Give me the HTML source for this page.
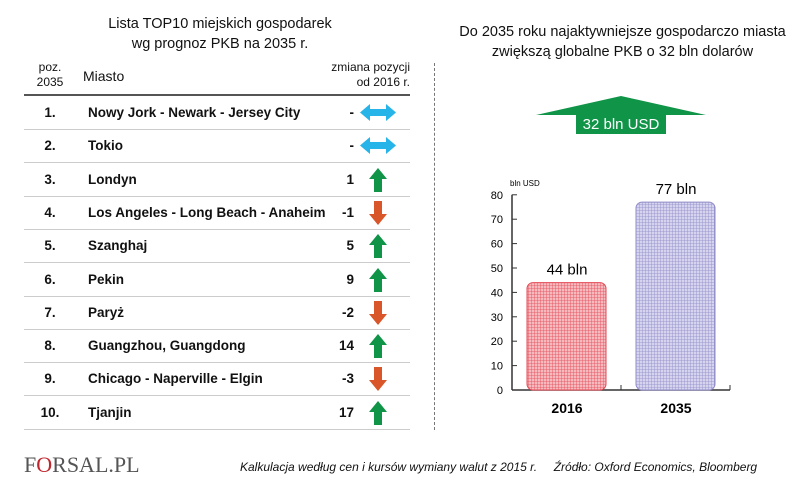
<!DOCTYPE html>
<html><head><meta charset="utf-8">
<style>
body{margin:0;width:805px;height:485px;background:#fff;font-family:"Liberation Sans",sans-serif;position:relative;overflow:hidden;color:#111}
.a{position:absolute;white-space:nowrap}
.t{font-size:14.5px;text-align:center}
.row{position:absolute;left:24px;width:386px;height:33px;border-bottom:1px solid #ccc;font-size:13.5px;font-weight:bold}
.row span{position:absolute;top:9px}
</style></head><body>
<div class="a t" style="left:20px;width:400px;top:14px;line-height:20px">Lista TOP10 miejskich gospodarek<br>wg prognoz PKB na 2035 r.</div>
<div class="a t" style="left:440px;width:365px;top:22px;line-height:20px">Do 2035 roku najaktywniejsze gospodarczo miasta<br>zwiększą globalne PKB o 32 bln dolarów</div>
<div class="a" style="left:30px;top:60px;font-size:12px;line-height:15px;text-align:center;width:40px">poz.<br>2035</div>
<div class="a" style="left:83px;top:68px;font-size:14px">Miasto</div>
<div class="a" style="left:318px;top:60px;font-size:12px;line-height:15px;text-align:right;width:92px">zmiana pozycji<br>od 2016 r.</div>
<div class="a" style="left:24px;top:94px;width:386px;height:2px;background:#555"></div>
<div id="rows"></div>
<div class="a" style="left:434px;top:63px;height:367px;border-left:1px dashed #777"></div>
<svg class="a" style="left:0;top:0" width="805" height="485" id="svg">
<polygon points="536,115 621,96 706,115 666,115 666,134 576,134 576,115" fill="#0f9448"/>
<text x="621" y="129" text-anchor="middle" fill="#fff" font-size="15" font-family="Liberation Sans">32 bln USD</text>
</svg>
<div class="a" style="left:24px;top:452px;font-family:'Liberation Serif',serif;font-size:22px;color:#555">F<span style="color:#c0262d">O</span>RSAL.PL</div>
<div class="a" style="left:240px;top:460px;font-size:12px;font-style:italic">Kalkulacja według cen i kursów wymiany walut z 2015 r.&nbsp;&nbsp;&nbsp;&nbsp; Źródło: Oxford Economics, Bloomberg</div>
<script>
const positions=["1.","2.","3.","4.","5.","6.","7.","8.","9.","10."];
const cities=["Nowy Jork - Newark - Jersey City","Tokio","Londyn","Los Angeles - Long Beach - Anaheim","Szanghaj","Pekin","Paryż","Guangzhou, Guangdong","Chicago - Naperville - Elgin","Tjanjin"];
const changes=[0,0,1,-1,5,9,-2,14,-3,17];
const rows=document.getElementById('rows');
cities.forEach((c,i)=>{
 const r=document.createElement('div');r.className='row';r.style.top=(96+i*33.3)+'px';
 
 
 const ch=changes[i];
 let icon;
 if(ch===0) icon='<svg style="position:absolute;left:336px;top:8px" width="36" height="17"><polygon points="0,8.5 10,0 10,5 26,5 26,0 36,8.5 26,17 26,12 10,12 10,17" fill="#27b4e8"/></svg>';
 else if(ch>0) icon='<svg style="position:absolute;left:345px;top:5px" width="18" height="24"><polygon points="9,0 18,11 13,11 13,24 5,24 5,11 0,11" fill="#0f9448"/></svg>';
 else icon='<svg style="position:absolute;left:345px;top:5px" width="18" height="24"><polygon points="9,24 18,13 13,13 13,0 5,0 5,13 0,13" fill="#d9552a"/></svg>';
 r.innerHTML='<span style="left:6px;width:40px;text-align:center">'+positions[i]+'</span><span style="left:64px">'+c+'</span><span style="right:56px">'+(ch===0?'-':ch)+'</span>'+icon;
 rows.appendChild(r);
});
const years=["2016","2035"];
const values=[44,77];
const labels=["44 bln","77 bln"];
const ticks=[0,10,20,30,40,50,60,70,80];
const svg=document.getElementById('svg');const NS='http://www.w3.org/2000/svg';
const y0=390,ppu=2.44,ax=512;
const Y=v=>y0-v*ppu;
function el(t,a){const e=document.createElementNS(NS,t);for(const k in a)e.setAttribute(k,a[k]);svg.appendChild(e);return e;}
const d=el('defs',{});
d.innerHTML='<pattern id="pr" width="3" height="3" patternUnits="userSpaceOnUse"><rect width="3" height="3" fill="#f6b9bd"/><path d="M0,0H3M0,0V3" stroke="#e24855" stroke-width="0.8"/></pattern><pattern id="pb" width="3" height="3" patternUnits="userSpaceOnUse"><rect width="3" height="3" fill="#d5d3ee"/><path d="M0,0H3M0,0V3" stroke="#8f8bc8" stroke-width="0.8"/></pattern>';
const yl=el('line',{x1:ax,y1:Y(80),x2:ax,y2:y0,stroke:'#333','stroke-width':1.5});


const xl=el('line',{x1:ax,y1:y0,x2:730,y2:y0,stroke:'#333','stroke-width':1.5});


[621,730].forEach(x=>el('line',{x1:x,y1:y0-5,x2:x,y2:y0,stroke:'#333'}));
ticks.forEach(t=>{
 el('line',{x1:ax,y1:Y(t),x2:ax+5,y2:Y(t),stroke:'#333'});
 const tx=el('text',{x:ax-9,y:Y(t)+4,'text-anchor':'end','font-size':11,'font-family':'Liberation Sans'});tx.textContent=t;
 
 
});
const u=el('text',{x:510,y:186,'font-size':8,'font-family':'Liberation Sans'});u.textContent='bln USD';


const bx=[527,636],fills=['url(#pr)','url(#pb)'],strokes=['#e24855','#8f8bc8'];
values.forEach((v,i)=>{
 const b=el('rect',{x:bx[i],y:Y(v),width:79,height:v*ppu,rx:6,fill:fills[i],stroke:strokes[i]});
 
 
 const l=el('text',{x:bx[i]+40,y:Y(v)-8,'text-anchor':'middle','font-size':15,'font-family':'Liberation Sans'});l.textContent=labels[i];
 
 
 const c=el('text',{x:bx[i]+40,y:413,'text-anchor':'middle','font-size':14,'font-weight':'bold','font-family':'Liberation Sans'});c.textContent=years[i];
 
 
});
</script>
</body></html>
